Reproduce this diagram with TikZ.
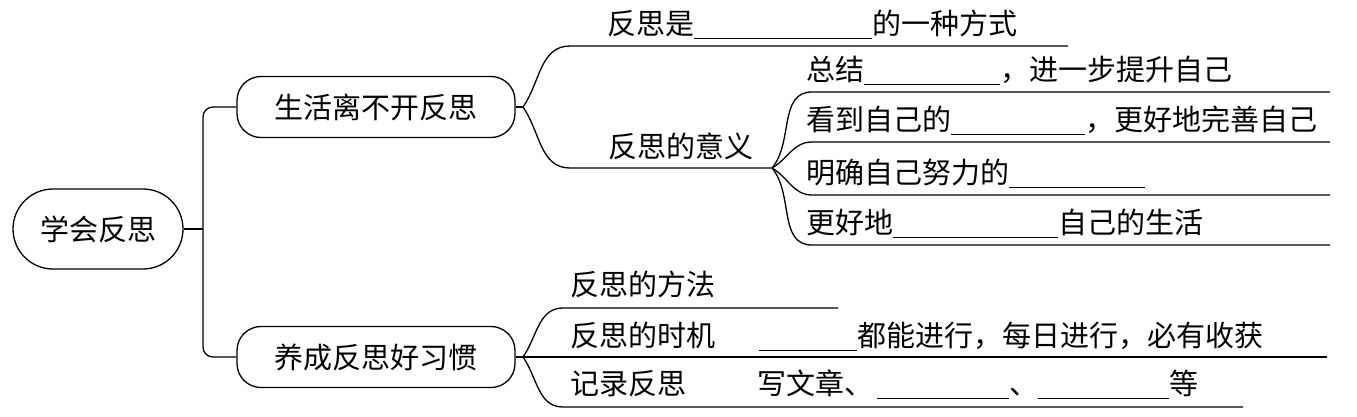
\documentclass[tikz,border=0pt]{standalone}
\usepackage{fontspec}
\newfontfamily\cjk{Noto Sans CJK SC}
\usetikzlibrary{positioning}
\newcommand{\blank}[1]{\rule[-5pt]{#1pt}{1.1pt}}

\begin{document}
\begin{tikzpicture}[
    x=1pt, y=-1pt,
    every node/.style={font=\cjk\fontsize{29}{34}\selectfont},
    topic/.style={rectangle, rounded corners=40pt, minimum width=170pt, minimum height=80pt, draw=black, line width=1.3pt, inner sep=0pt},
    subtopic/.style={rectangle, rounded corners=24pt, minimum width=278pt, minimum height=61pt, draw=black, line width=1.3pt, inner sep=0pt},
    leaf/.style={anchor=base west, inner sep=0pt},
    conn/.style={line width=1.3pt}
]
\useasboundingbox (0,0) rectangle (1357,416);

% Main topic
\node (root) [topic] at (98,229) {学会反思};

% Sub topics
\node (life) [subtopic] at (376,107) {生活离不开反思};
\node (habit) [subtopic] at (376,357) {养成反思好习惯};

% Trunk
\coordinate (trunk) at (203,229);
\draw[conn] (root.east) -- (trunk);
\draw[conn, rounded corners=10pt] (life.west) -| (trunk) |- (habit.west);

% Upper branch
\coordinate (fk1) at (523,107);
\coordinate (w0) at (570,46);
\coordinate (w1) at (1068,46);
\coordinate (v0) at (570,168);
\coordinate (fk2) at (772,168);
\draw[conn] (life.east) -- (fk1);
\draw[conn] (fk1) to[out=55,in=180] (w0) -- (w1);
\draw[conn] (fk1) to[out=-55,in=180] (v0) -- (fk2);
\node (way) [leaf] at (607,34) {反思是\blank{178}的一种方式};
\node (meaning) [leaf] at (608,157) {反思的意义};

% Meaning of reflection
\node (sum) [leaf] at (806,80) {总结\blank{136}，进一步提升自己};
\node (see) [leaf] at (806,130) {看到自己的\blank{134}，更好地完善自己};
\node (aim) [leaf] at (806,183) {明确自己努力的\blank{136}};
\node (live) [leaf] at (806,233) {更好地\blank{165}自己的生活};
\foreach \n/\y/\o in {1/92/50,2/142/30,3/195/-30,4/245/-50}{
    \coordinate (m\n a) at (812,\y);
    \coordinate (m\n b) at (1330,\y);
    \draw[conn] (fk2) to[out=\o,in=180] (m\n a) -- (m\n b);
}

% Lower branch
\coordinate (fk3) at (523,357);
\coordinate (h1a) at (563,308);
\coordinate (h1b) at (838,308);
\coordinate (h2b) at (1327,357);
\coordinate (h3a) at (563,407);
\coordinate (h3b) at (1243,407);
\draw[conn] (habit.east) -- (fk3);
\draw[conn] (fk3) to[out=55,in=180] (h1a) -- (h1b);
\draw[conn] (fk3) -- (h2b);
\draw[conn] (fk3) to[out=-55,in=180] (h3a) -- (h3b);
\node (method) [leaf] at (570,295) {反思的方法};
\node (timing) [leaf] at (570,346) {反思的时机};
\node (timingtext) [leaf] at (759,346) {\blank{98}都能进行，每日进行，必有收获};
\node (record) [leaf] at (570,394) {记录反思};
\node (recordtext) [leaf] at (757,394) {写文章、\hspace{4pt}\blank{132}、\blank{131}等};

\end{tikzpicture}
\end{document}
